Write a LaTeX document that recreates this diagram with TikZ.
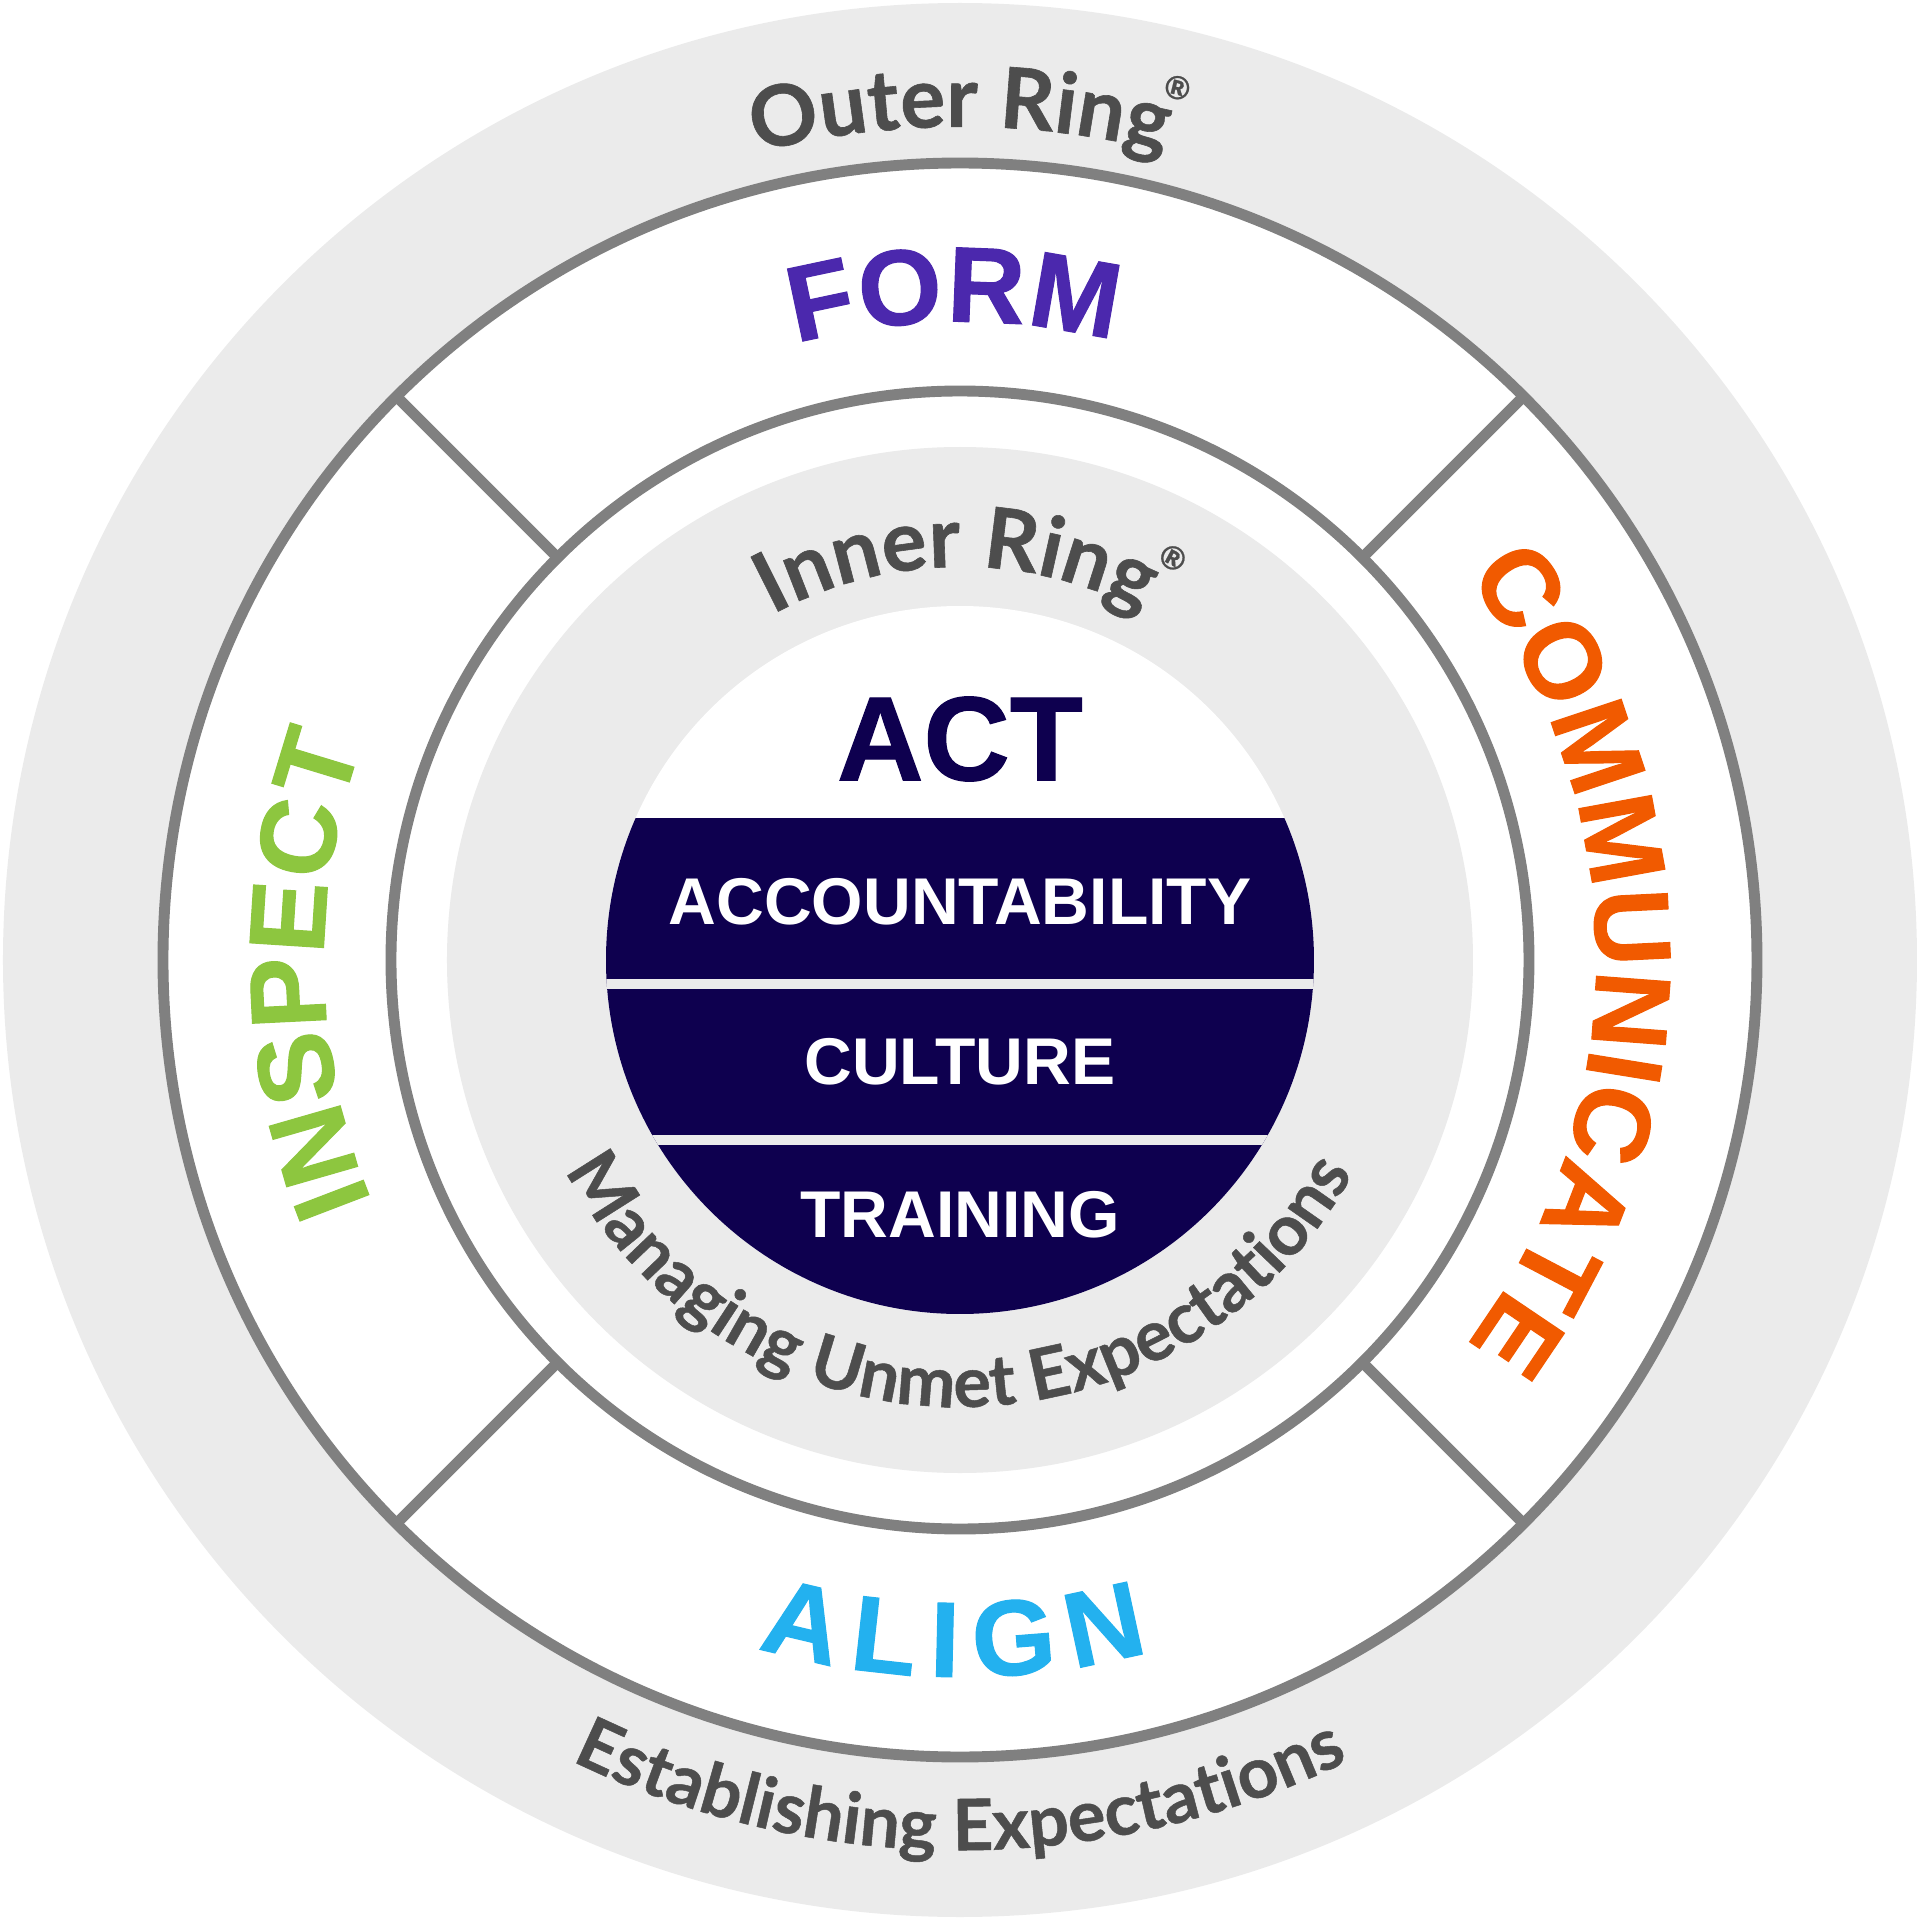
\documentclass[tikz,border=0pt]{standalone}
\usepackage{fontspec}
\usepackage{tikz}
\usetikzlibrary{decorations.text}

\newfontfamily\wordfont{Liberation Sans}[BoldFeatures={FakeBold=1}]
\newfontfamily\bandfont{Liberation Sans}
\newfontfamily\ringfont{Lato}[BoldFeatures={FakeBold=0.7}]

\definecolor{ringgray}{HTML}{EBEBEB}
\definecolor{linegray}{HTML}{808080}
\definecolor{actnavy}{HTML}{0E004F}
\definecolor{formpurple}{HTML}{4B28AD}
\definecolor{commorange}{HTML}{F15A00}
\definecolor{inspgreen}{HTML}{8DC63F}
\definecolor{alignblue}{HTML}{23B1EF}
\definecolor{textgray}{HTML}{4D4D4D}

\begin{document}
\begin{tikzpicture}[x=0.01cm, y=0.01cm,
  ringline/.style={draw=linegray, line width=3.1pt},
  bandtext/.style={font=\bandfont\bfseries\fontsize{18.8}{18.8}\selectfont, text=white},
  regmark/.style={font=\ringfont\bfseries\fontsize{9}{9}\selectfont, text=textgray, inner sep=0pt},
  arcword/.style 2 args={decorate, decoration={text along path, text align={fit to path},
    text={|\wordfont\bfseries\fontsize{30.5}{30.5}\selectfont\color{#1}|#2}}},
  arclabel/.style 2 args={decorate, decoration={text along path, text align=center,
    text={|\ringfont\bfseries\fontsize{#1}{#1}\selectfont\color{textgray}|#2}}}]
\useasboundingbox (-960,-960) rectangle (960,960);

% rings
\fill[ringgray] (0,0) circle (957);
\fill[white] (0,0) circle (797);
\draw[ringline] (0,0) circle (797);
\draw[ringline] (0,0) circle (569);
\fill[ringgray] (0,0) circle (513);
\foreach \a in {45,135,225,315}
  \draw[ringline] (\a:569) -- (\a:797);

% centre disc
\fill[white] (0,0) circle (354);
\begin{scope}
  \clip (0,0) circle (354);
  \fill[actnavy] (-354,-354) rectangle (354,142);
  \fill[ringgray] (-354,-29) rectangle (354,-19);
  \fill[ringgray] (-354,-185) rectangle (354,-175);
\end{scope}

\node[font=\wordfont\bfseries\fontsize{34}{34}\selectfont, text=actnavy] (act) at (0,221) {ACT};
\node[bandtext] (acc) at (0,58) {ACCOUNTABILITY};
\node[bandtext] (cul) at (0,-102) {CULTURE};
\node[bandtext] (tra) at (0,-255) {TRAINING};

% words of the white ring
\path[arcword={formpurple}{FORM}] (104.9:638) arc (104.9:76.1:638);
\path[arcword={commorange}{COMMUNICATE}] (37.2:636) arc (37.2:-37.2:636);
\path[arcword={alignblue}{ALIGN}] (253.6:717) arc (253.6:285.3:717);
\path[arcword={inspgreen}{INSPECT}] (202.3:636) arc (202.3:160.1:636);

% grey labels
\path[arclabel={24}{Outer Ring}] (150:833) arc (150:30:833);
\node[regmark, rotate=-14] (outerreg) at (76:899) {®};
\path[arclabel={20.2}{Establishing Expectations}] (200:890) arc (200:340:890);
\path[arclabel={24}{Inner Ring}] (150.45:393) arc (150.45:30.45:393);
\node[regmark, rotate=-28] (innerreg) at (62.1:455) {®};
\path[arclabel={20}{Managing Unmet Expectations}] (189.8:447) arc (189.8:349.8:447);

\end{tikzpicture}
\end{document}
